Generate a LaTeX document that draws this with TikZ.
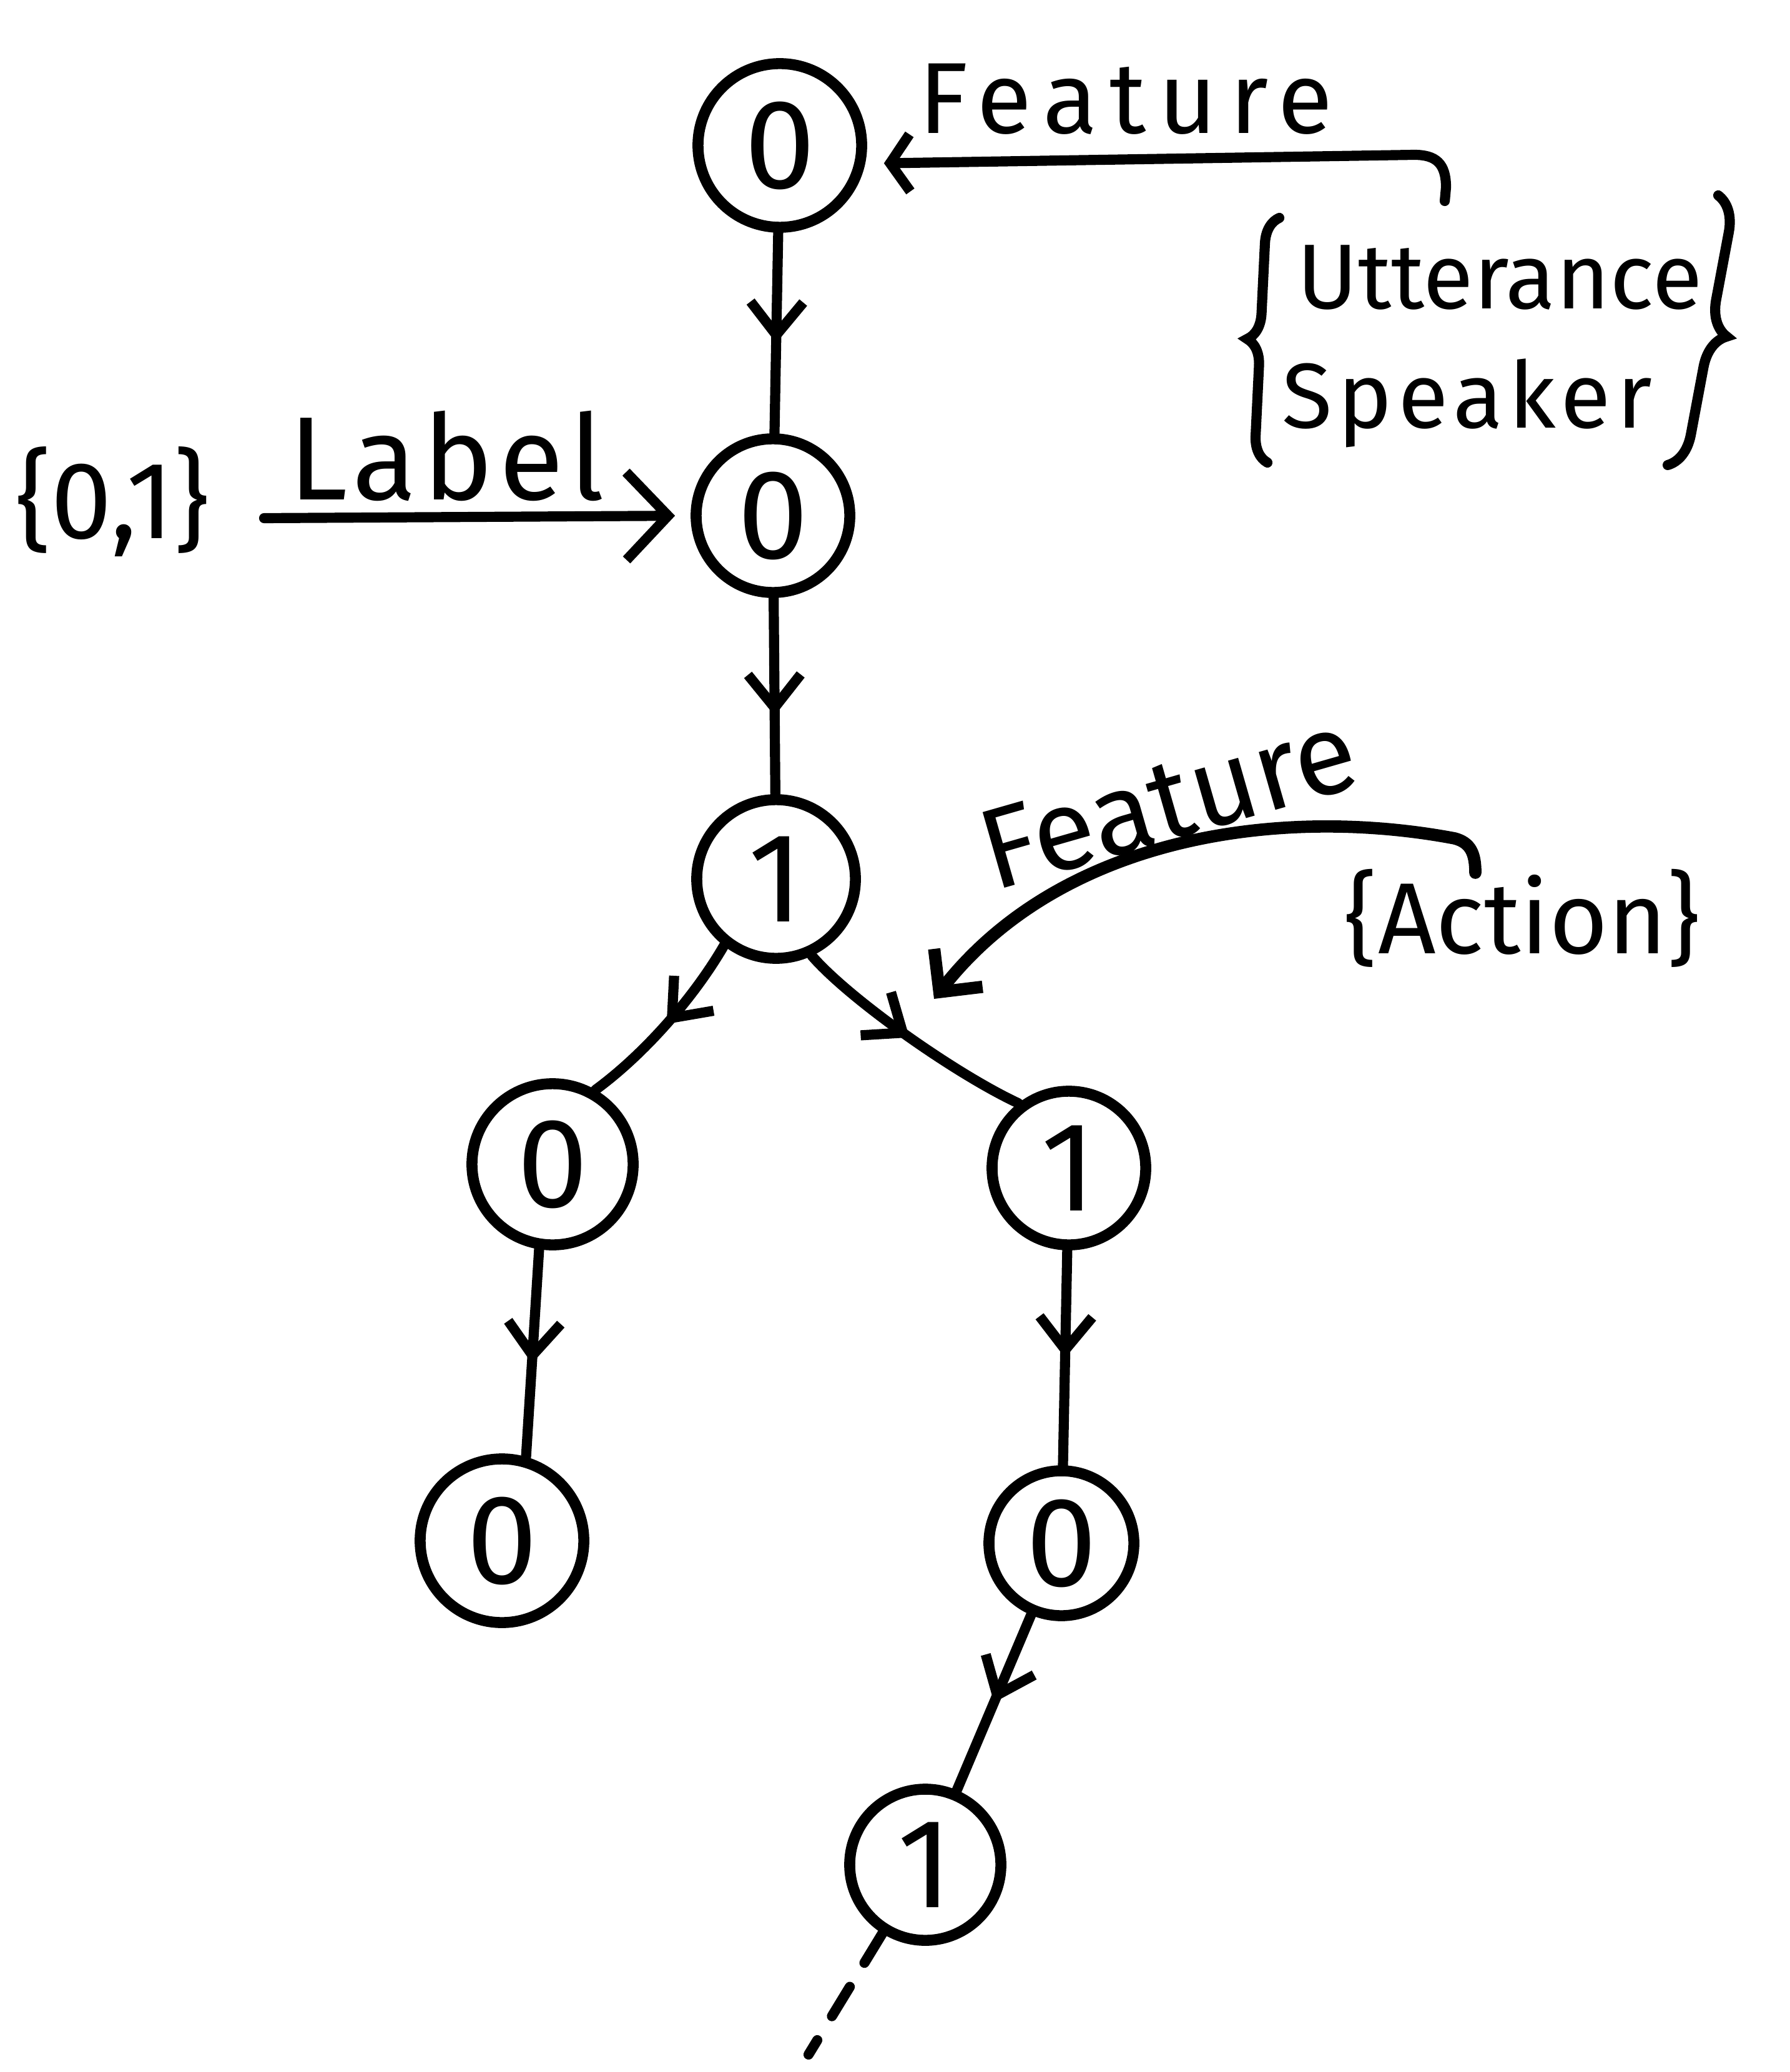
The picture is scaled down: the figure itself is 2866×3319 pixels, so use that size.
\documentclass[tikz,border=0pt]{standalone}
\usepackage{fontspec}
\setmainfont{Fira Sans}
\usetikzlibrary{arrows.meta,decorations.markings,decorations.pathreplacing}
\begin{document}
\begin{tikzpicture}[x=0.01cm,y=-0.01cm,
  st/.style={circle, draw, line width=5pt, inner sep=0pt, font=\fontsize{58}{60}\selectfont},
  ed/.style={line width=4.6pt, line cap=round},
  midarrow/.style={postaction={decorate}, decoration={markings, mark=at position #1 with {\arrow{Straight Barb[length=15pt,width=24pt]}}}},
  ann/.style={line width=4.6pt, line cap=round, line join=round},
  hw/.style={inner sep=0pt, font=\fontsize{#1}{#1}\selectfont},
  brc/.style={line width=4.6pt, line cap=round, decorate},
]
\fill[white] (0,0) rectangle (2866,3319);
\useasboundingbox (0,0) rectangle (2866,3319);

% nodes
\node[st, minimum size=2.62cm] (n1) at (1249,233) {0};
\node[st, minimum size=2.46cm] (n2) at (1238,826) {0};
\node[st, minimum size=2.54cm] (n3) at (1243,1408) {1};
\node[st, minimum size=2.58cm] (n4) at (885,1865) {0};
\node[st, minimum size=2.46cm] (n5) at (1712,1871) {1};
\node[st, minimum size=2.62cm] (n6) at (804,2468) {0};
\node[st, minimum size=2.32cm] (n7) at (1700,2472) {0};
\node[st, minimum size=2.42cm] (n8) at (1482,2987) {1};

% tree edges
\draw[ed, midarrow=0.55] (n1) -- (n2);
\draw[ed, midarrow=0.6] (n2) -- (n3);
\draw[ed, midarrow=0.5] (n3.232) .. controls (1110,1600) and (1030,1690) .. (n4.60);
\draw[ed, midarrow=0.5] (n3.-65) .. controls (1360,1600) and (1530,1720) .. (n5.128);
\draw[ed, midarrow=0.55] (n4.261) -- (n6.74);
\draw[ed, midarrow=0.5] (n5) -- (n7);
\draw[ed, midarrow=0.5] (n7) -- (n8);
\coordinate (cont) at (1295,3291);
\draw[ed, dash pattern=on 0.55cm off 0.45cm] (n8.238) -- (cont);

% top Feature annotation
\node[hw=46] (ft1) at (1803,159) {\addfontfeatures{LetterSpace=12}Feature};
\coordinate (fb) at (2314,322);
\draw[ann, -{Straight Barb[length=9pt,width=26pt]}, shorten >=0.3cm]
  (fb) -- (2316,300) .. controls (2316,262) and (2300,248) .. (2265,248) -- (n1.-12);
\node[hw=42] (ut) at (2402,445) {Utterance};
\node[hw=42] (sp) at (2350,646) {\addfontfeatures{LetterSpace=6}Speaker};
\draw[brc, decoration={brace, amplitude=0.42cm}] (2030,741) -- (2049,349);
\draw[brc, decoration={brace, amplitude=0.55cm}] (2752,313) -- (2671,745);

% Label annotation
\node[hw=50] (s01) at (180,804) {\{0,1\}};
\node[hw=54] (lb) at (715,730) {\addfontfeatures{LetterSpace=5}Label};
\coordinate (la) at (423,830);
\draw[ann, -{Straight Barb[length=19pt,width=40pt]}, shorten >=0.25cm] (la) -- (n2.west);

% second Feature annotation
\node[hw=52, rotate=16, anchor=base] (ft2) at (1888,1342) {Feature};
\node[hw=46] (act) at (2438,1471) {\{Action\}};
\coordinate (fs2) at (2363,1398);
\coordinate (tgt) at (1496,1600);
\draw[ann, line width=5.6pt, -{Straight Barb[length=14pt,width=28pt]}]
  (fs2) .. controls (2363,1368) and (2356,1350) .. (2330,1343)
        .. controls (2050,1290) and (1700,1340) .. (tgt);
\end{tikzpicture}
\end{document}
